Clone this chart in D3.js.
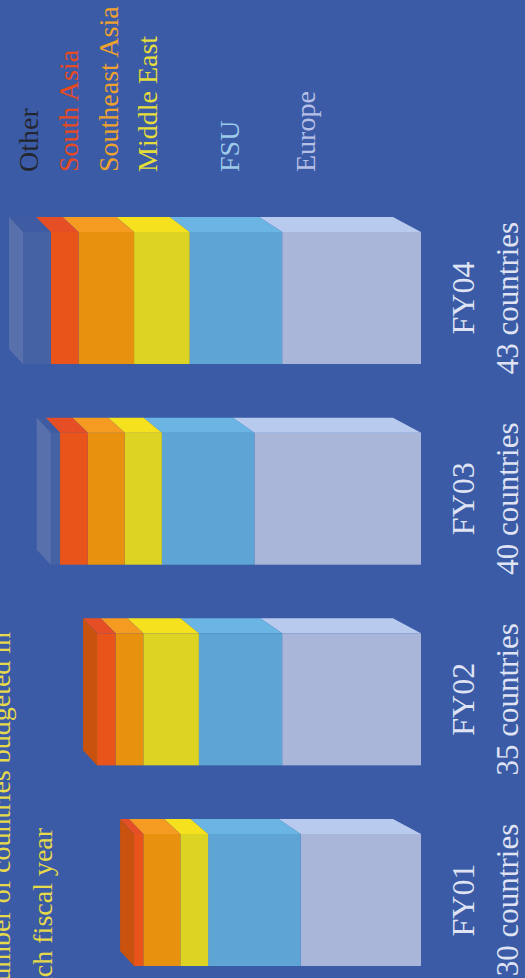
<!DOCTYPE html>
<html>
<head>
<meta charset="utf-8">
<script src="https://cdn.jsdelivr.net/npm/d3@7"></script>
<style>
  body { margin: 0; background: #3b5ba6; }
  svg { display: block; }
</style>
</head>
<body>
<div id="chart"></div>
<script>
// data (countries per region, per fiscal year)
const years = ['FY01', 'FY02', 'FY03', 'FY04'];
const totals = [30, 35, 40, 43];
const regions = ['Europe', 'FSU', 'Middle East', 'Southeast Asia', 'South Asia', 'Other'];
const europe = [13, 15, 18, 15];
const fsu = [10, 9, 10, 10];
const middleEast = [3, 6, 4, 6];
const southeastAsia = [4, 3, 4, 6];
const southAsia = [1, 2, 3, 3];
const other = [0, 0, 1, 3];
const titleLines = ['Number of countries budgeted in', 'each fiscal year'];
const legendOrder = ['Other', 'South Asia', 'Southeast Asia', 'Middle East', 'FSU', 'Europe'];

const width = 525;
const height = 978;

// colours
const frontColor = {
  'Europe': '#a9b5d9', 'FSU': '#5ea5d6', 'Middle East': '#dcd322',
  'Southeast Asia': '#e8910f', 'South Asia': '#e9541a', 'Other': '#4562a4'
};
const topColor = {
  'Europe': '#b8cbef', 'FSU': '#6bb5e5', 'Middle East': '#f6e11e',
  'Southeast Asia': '#f59b22', 'South Asia': '#e64f25', 'Other': '#3f5ca2'
};
const sideColor = {
  'South Asia': '#c8520e', 'Other': '#5870ac'
};
const textColor = {
  'Other': '#23262f', 'South Asia': '#e84a1f', 'Southeast Asia': '#efa22e',
  'Middle East': '#e4dd3c', 'FSU': '#9dcbe9', 'Europe': '#b6c0e6'
};

const rows = years.map((y, i) => ({
  year: y,
  total: totals[i],
  'Europe': europe[i],
  'FSU': fsu[i],
  'Middle East': middleEast[i],
  'Southeast Asia': southeastAsia[i],
  'South Asia': southAsia[i],
  'Other': other[i]
}));

const series = d3.stack().keys(regions)(rows);

const svg = d3.select('#chart')
  .append('svg')
  .attr('width', width)
  .attr('height', height)
  .style('font-family', '"Liberation Serif", "Times New Roman", serif');

svg.append('rect')
  .attr('width', width)
  .attr('height', height)
  .attr('fill', '#3b5ba6');

// the chart is turned on its side: values run right -> left, years bottom -> top
const x = d3.scaleLinear().domain([0, 43]).range([421, 23]);
const y = d3.scaleBand()
  .domain(years.slice().reverse())
  .range([232, 966])
  .paddingInner(0.342)
  .paddingOuter(0);

const bw = y.bandwidth();
const dy = 15;
const dTop = 14;
const dBase = 28;
const base = x(0);

function depthAt(px, left) {
  return dTop + (dBase - dTop) * (px - left) / (base - left);
}

const bars = svg.append('g').attr('class', 'bars');

rows.forEach((row, i) => {
  const g = bars.append('g');
  const yT = y(row.year);
  const yB = yT + bw;
  const segs = series
    .map(s => ({ key: s.key, v0: s[i][0], v1: s[i][1] }))
    .filter(s => s.v1 > s.v0);
  const left = x(d3.max(segs, s => s.v1));

  // front faces
  g.selectAll('rect.front')
    .data(segs)
    .join('rect')
    .attr('class', 'front')
    .attr('x', d => x(d.v1))
    .attr('y', yT)
    .attr('width', d => x(d.v0) - x(d.v1))
    .attr('height', bw)
    .attr('fill', d => frontColor[d.key]);

  // top faces (the side of the original column)
  g.selectAll('path.top')
    .data(segs)
    .join('path')
    .attr('class', 'top')
    .attr('d', d => {
      const a = x(d.v1), b = x(d.v0);
      return `M${a},${yT}L${b},${yT}L${b - depthAt(b, left)},${yT - dy}L${a - depthAt(a, left)},${yT - dy}Z`;
    })
    .attr('fill', d => topColor[d.key]);

  // end face of the topmost segment
  const last = segs[segs.length - 1];
  const dl = depthAt(left, left);
  g.append('path')
    .attr('d', `M${left},${yT}L${left - dl},${yT - dy}L${left - dl},${yB - dy}L${left},${yB}Z`)
    .attr('fill', sideColor[last.key]);
});

// year labels
const labels = svg.append('g').attr('class', 'labels')
  .attr('fill', '#dfe3f3')
  .attr('text-anchor', 'middle');

labels.selectAll('text.year')
  .data(rows)
  .join('text')
  .attr('class', 'year')
  .attr('font-size', 32)
  .attr('transform', d => `translate(474,${y(d.year) + bw / 2}) rotate(-90)`)
  .text(d => d.year);

labels.selectAll('text.count')
  .data(rows)
  .join('text')
  .attr('class', 'count')
  .attr('font-size', 31)
  .attr('transform', d => `translate(518,${y(d.year) + bw / 2}) rotate(-90)`)
  .text(d => `${d.total} countries`);

// legend
const legendX = [38, 78, 118, 157, 239, 315];
svg.append('g').attr('class', 'legend')
  .attr('font-size', 28)
  .selectAll('text')
  .data(legendOrder)
  .join('text')
  .attr('transform', (d, i) => `translate(${legendX[i]},172) rotate(-90)`)
  .attr('fill', d => textColor[d])
  .text(d => d);

// title (partly cut off by the page edge)
svg.append('g').attr('class', 'title')
  .attr('font-size', 28)
  .attr('fill', '#e6d94a')
  .selectAll('text')
  .data(titleLines)
  .join('text')
  .attr('transform', (d, i) => `translate(${10 + i * 42},1002) rotate(-90)`)
  .text(d => d);
</script>
</body>
</html>
